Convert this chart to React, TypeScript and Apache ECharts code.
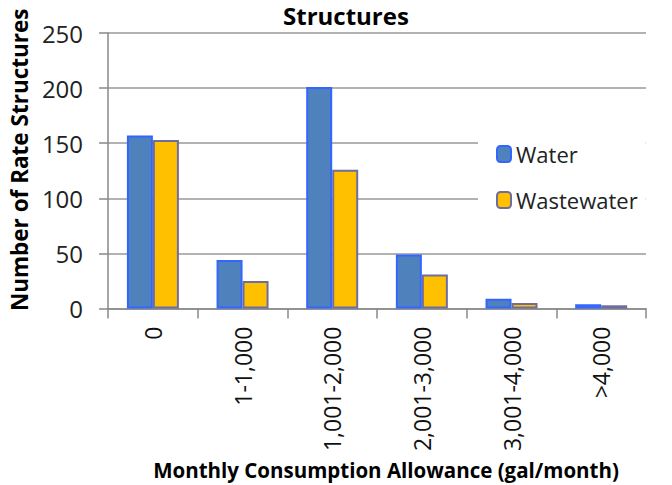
import React, { useEffect, useRef } from "react";
import * as echarts from "echarts";

const categories = ["0", "1-1,000", "1,001-2,000", "2,001-3,000", "3,001-4,000", ">4,000"];
const waterValues = [157, 44, 201, 49, 9, 4];
const wastewaterValues = [153, 25, 126, 31, 5, 3];
const yTicks = [0, 50, 100, 150, 200, 250];

const FONT = "Open Sans";

export default function App() {
  const ref = useRef<HTMLDivElement>(null);
  useEffect(() => {
    if (!ref.current) return;
    const chart = echarts.init(ref.current, null, { renderer: "svg" });
    chart.setOption({
      animation: false,
      backgroundColor: "#ffffff",
      textStyle: { fontFamily: FONT },
      title: {
        text: "Structures",
        left: 283,
        top: 3,
        padding: 0,
        textStyle: { fontFamily: FONT, fontWeight: "bold", fontSize: 24, color: "#000" },
      },
      legend: {
        orient: "vertical",
        left: 478,
        top: 118,
        padding: [25, 8, 25, 18],
        backgroundColor: "#ffffff",
        itemWidth: 14,
        itemHeight: 16,
        itemGap: 24,
        textStyle: { fontFamily: FONT, fontSize: 22, color: "#222" },
        data: ["Water", "Wastewater"],
      },
      grid: { left: 107, right: 26, top: 33, bottom: 173 },
      xAxis: {
        type: "category",
        data: categories,
        axisLine: { lineStyle: { color: "#888", width: 1.5 } },
        axisTick: { show: true, length: 10, lineStyle: { color: "#888", width: 1.5 } },
        axisLabel: {
          rotate: 90,
          margin: 18,
          fontFamily: FONT,
          fontSize: 23,
          color: "#111",
        },
        name: "Monthly Consumption Allowance (gal/month)",
        nameLocation: "middle",
        nameGap: 145,
        nameTextStyle: {
          fontFamily: FONT,
          fontWeight: "bold",
          fontSize: 20.5,
          color: "#000",
          padding: [0, 0, 0, 18],
        },
      },
      yAxis: {
        type: "value",
        min: 0,
        max: 250,
        interval: 50,
        axisLine: { show: true, lineStyle: { color: "#888", width: 1.5 } },
        axisTick: { show: true, length: 9, lineStyle: { color: "#888", width: 1.5 } },
        splitLine: { show: true, lineStyle: { color: "#999", width: 1.5 } },
        axisLabel: {
          margin: 25,
          fontFamily: FONT,
          fontSize: 24,
          color: "#222",
          formatter: (v: number) => (yTicks.includes(v) ? String(v) : ""),
        },
        name: "Number of Rate Structures",
        nameLocation: "middle",
        nameGap: 70,
        nameTextStyle: {
          fontFamily: FONT,
          fontWeight: "bold",
          fontSize: 22.5,
          color: "#000",
          padding: [0, 0, 0, 22],
        },
      },
      series: [
        {
          name: "Water",
          type: "bar",
          data: waterValues,
          barWidth: "29%",
          barGap: "0%",
          itemStyle: { color: "#4F81BD", borderColor: "#3366FF", borderWidth: 2 },
        },
        {
          name: "Wastewater",
          type: "bar",
          data: wastewaterValues,
          barWidth: "29%",
          barGap: "0%",
          itemStyle: { color: "#FFC000", borderColor: "#6E6E9E", borderWidth: 2 },
        },
      ],
    });
    return () => chart.dispose();
  }, []);
  return (
    <div
      ref={ref}
      style={{ width: 672, height: 485, position: "fixed", top: 0, left: 0 }}
    />
  );
}
